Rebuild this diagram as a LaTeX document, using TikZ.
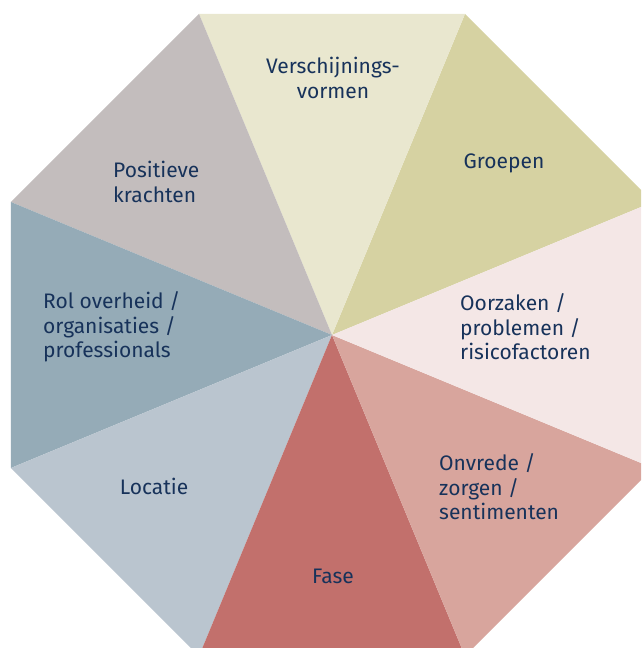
\documentclass[tikz,border=0pt]{standalone}
\usepackage{fontspec}
\setmainfont{Fira Sans}
\usetikzlibrary{calc}

\definecolor{navytext}{HTML}{17325A}
\definecolor{cGroepen}{HTML}{D6D2A2}
\definecolor{cVorm}{HTML}{E9E7CF}
\definecolor{cKracht}{HTML}{C3BDBD}
\definecolor{cRol}{HTML}{95ABB7}
\definecolor{cLocatie}{HTML}{BAC5CF}
\definecolor{cFase}{HTML}{C2706C}
\definecolor{cOnvrede}{HTML}{D8A59D}
\definecolor{cOorzaak}{HTML}{F4E7E6}

\tikzset{
  label/.style={text=navytext, inner sep=0pt,
                font=\fontsize{21}{24.5}\selectfont},
  block/.style={label, align=left, anchor=west},
  single/.style={label, align=center}
}

\begin{document}
\begin{tikzpicture}[x=1pt,y=1pt]
\useasboundingbox (0,0) rectangle (641,648);
\clip (0,0) rectangle (641,648);
\coordinate (c) at (332,313);

% sectors of the octagon
\foreach \a/\col in {22.5/cGroepen, 67.5/cVorm, 112.5/cKracht, 157.5/cRol,
                     202.5/cLocatie, 247.5/cFase, 292.5/cOnvrede, 337.5/cOorzaak}
{
  \fill[\col] (c) -- ($(c)+(\a:347.5)$) -- ($(c)+(\a+45:347.5)$) -- cycle;
}

% labels
\node[single] (vorm) at (333,570) {Verschijnings-\\vormen};
\node[single] (groepen) at (504,485) {Groepen};
\node[block] (kracht) at (113,466) {Positieve\\krachten};
\node[block] (rol) at (43,321) {Rol overheid /\\organisaties /\\professionals};
\node[block] (oorzaak) at (460,321) {Oorzaken /\\problemen /\\risicofactoren};
\node[block] (onvrede) at (439,161) {Onvrede /\\zorgen /\\sentimenten};
\node[single] (locatie) at (154,162) {Locatie};
\node[single] (fase) at (333,72) {Fase};
\end{tikzpicture}
\end{document}
